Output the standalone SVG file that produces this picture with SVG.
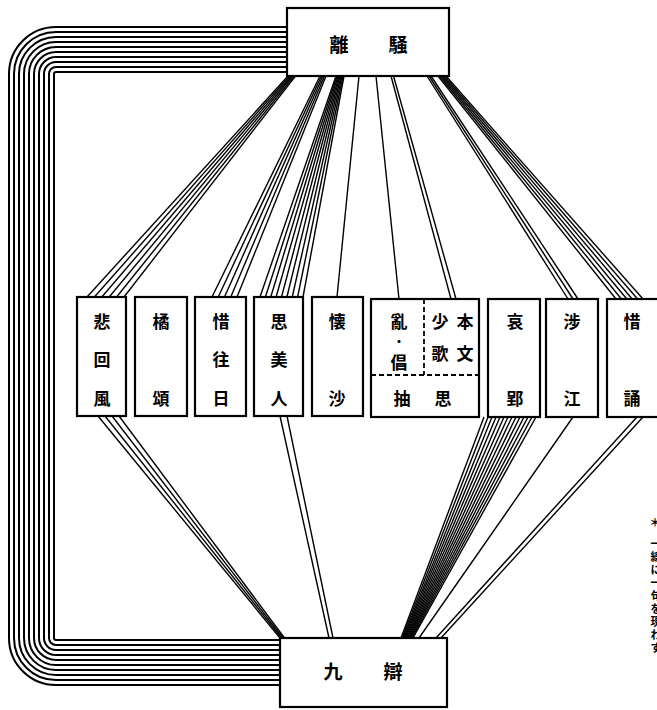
<svg xmlns="http://www.w3.org/2000/svg" width="657" height="710" viewBox="0 0 657 710">
<style>
.box{fill:#fff;stroke:#000;stroke-width:2.2}
.dash{fill:none;stroke:#000;stroke-width:1.8;stroke-dasharray:5,3}
.t{font-family:"Noto Sans CJK JP","Noto Sans CJK SC",sans-serif;font-size:17px;font-weight:bold;text-anchor:middle;dominant-baseline:central;fill:#000}
.d{font-family:"Noto Sans CJK JP","Noto Sans CJK SC",sans-serif;font-size:12px;font-weight:bold;text-anchor:middle;dominant-baseline:central;fill:#000}
.tb{font-family:"Noto Sans CJK JP","Noto Sans CJK SC",sans-serif;font-size:19px;font-weight:bold;text-anchor:middle;dominant-baseline:central;fill:#000}
.n{font-family:"Noto Sans CJK JP","Noto Sans CJK SC",sans-serif;font-size:11px;font-weight:bold;text-anchor:middle;dominant-baseline:central;fill:#000}
.c line{stroke:#000;stroke-width:1.4}
.loop path{fill:none;stroke:#000;stroke-width:2}
</style>
<rect width="657" height="710" fill="#fff"/>
<g id="connectors">
<g class="loop">
<path d="M287,72 H56 A2,2 0 0 0 54,74 V638 A2,2 0 0 0 56,640 H280"/>
<path d="M287,67 H56 A7,7 0 0 0 49,74 V638 A7,7 0 0 0 56,645 H280"/>
<path d="M287,62 H56 A12,12 0 0 0 44,74 V638 A12,12 0 0 0 56,650 H280"/>
<path d="M287,57 H56 A17,17 0 0 0 39,74 V638 A17,17 0 0 0 56,655 H280"/>
<path d="M287,52 H56 A22,22 0 0 0 34,74 V638 A22,22 0 0 0 56,660 H280"/>
<path d="M287,47 H56 A27,27 0 0 0 29,74 V638 A27,27 0 0 0 56,665 H280"/>
<path d="M287,42 H56 A32,32 0 0 0 24,74 V638 A32,32 0 0 0 56,670 H280"/>
<path d="M287,37 H56 A37,37 0 0 0 19,74 V638 A37,37 0 0 0 56,675 H280"/>
<path d="M287,32 H56 A42,42 0 0 0 14,74 V638 A42,42 0 0 0 56,680 H280"/>
<path d="M287,27 H56 A47,47 0 0 0 9,74 V638 A47,47 0 0 0 56,685 H280"/>
</g>
<g class="c">
<line x1="288" y1="76" x2="87" y2="297"/>
<line x1="289.5" y1="76" x2="94.4" y2="297"/>
<line x1="291" y1="76" x2="101.8" y2="297"/>
<line x1="292.5" y1="76" x2="109.2" y2="297"/>
<line x1="294" y1="76" x2="116.6" y2="297"/>
<line x1="295.5" y1="76" x2="124" y2="297"/>
<line x1="320" y1="76" x2="212" y2="297"/>
<line x1="321.5" y1="76" x2="218.25" y2="297"/>
<line x1="323" y1="76" x2="224.5" y2="297"/>
<line x1="324.5" y1="76" x2="230.75" y2="297"/>
<line x1="326" y1="76" x2="237" y2="297"/>
<line x1="336" y1="76" x2="260" y2="297"/>
<line x1="337" y1="76" x2="265.4" y2="297"/>
<line x1="338" y1="76" x2="270.75" y2="297"/>
<line x1="339" y1="76" x2="276.1" y2="297"/>
<line x1="340" y1="76" x2="281.5" y2="297"/>
<line x1="341" y1="76" x2="286.9" y2="297"/>
<line x1="342" y1="76" x2="292.25" y2="297"/>
<line x1="343" y1="76" x2="297.6" y2="297"/>
<line x1="344" y1="76" x2="303" y2="297"/>
<line x1="359" y1="76" x2="337" y2="297"/>
<line x1="376" y1="76" x2="399" y2="299"/>
<line x1="391" y1="76" x2="451" y2="299"/>
<line x1="393.5" y1="76" x2="456" y2="299"/>
<line x1="427" y1="76" x2="568" y2="299"/>
<line x1="429" y1="76" x2="573" y2="299"/>
<line x1="431" y1="76" x2="578" y2="299"/>
<line x1="438" y1="76" x2="616" y2="299"/>
<line x1="439.6" y1="76" x2="621.4" y2="299"/>
<line x1="441.2" y1="76" x2="626.8" y2="299"/>
<line x1="442.8" y1="76" x2="632.2" y2="299"/>
<line x1="444.4" y1="76" x2="637.6" y2="299"/>
<line x1="446" y1="76" x2="643" y2="299"/>
<line x1="98" y1="416" x2="280" y2="638"/>
<line x1="105" y1="416" x2="281.5" y2="638"/>
<line x1="112" y1="416" x2="283" y2="638"/>
<line x1="119" y1="416" x2="284.5" y2="638"/>
<line x1="280" y1="416" x2="329" y2="638"/>
<line x1="287" y1="416" x2="333" y2="638"/>
<line x1="484" y1="417" x2="401" y2="638"/>
<line x1="488" y1="417" x2="402" y2="638"/>
<line x1="492" y1="417" x2="403" y2="638"/>
<line x1="496" y1="417" x2="403.8" y2="638"/>
<line x1="500" y1="417" x2="404.7" y2="638"/>
<line x1="504" y1="417" x2="405.6" y2="638"/>
<line x1="508" y1="417" x2="406.5" y2="638"/>
<line x1="512" y1="417" x2="407.4" y2="638"/>
<line x1="516" y1="417" x2="408.3" y2="638"/>
<line x1="520" y1="417" x2="409.2" y2="638"/>
<line x1="524" y1="417" x2="410.1" y2="638"/>
<line x1="528" y1="417" x2="411" y2="638"/>
<line x1="532" y1="417" x2="412" y2="638"/>
<line x1="536" y1="417" x2="413" y2="638"/>
<line x1="573" y1="417" x2="419" y2="638"/>
<line x1="637" y1="417" x2="436" y2="638"/>
<line x1="643" y1="417" x2="441" y2="638"/>
</g>
</g>
<g id="lisao">
<rect class="box" x="287" y="8" width="162" height="68"/>
<text class="tb" x="339" y="43">離</text>
<text class="tb" x="398" y="43">騒</text>
</g>
<g id="jiubian">
<rect class="box" x="280" y="638" width="167" height="69"/>
<text class="tb" x="333" y="670">九</text>
<text class="tb" x="393" y="670">辯</text>
</g>
<g id="beihuifeng">
<rect class="box" x="77" y="297" width="49" height="119"/>
<text class="t" x="102" y="320">悲</text>
<text class="t" x="102" y="358">回</text>
<text class="t" x="102" y="397">風</text>
</g>
<g id="jusong">
<rect class="box" x="135" y="297" width="52" height="119"/>
<text class="t" x="161" y="320">橘</text>
<text class="t" x="161" y="397">頌</text>
</g>
<g id="xiwangri">
<rect class="box" x="195" y="297" width="51" height="119"/>
<text class="t" x="221" y="320">惜</text>
<text class="t" x="221" y="358">往</text>
<text class="t" x="221" y="397">日</text>
</g>
<g id="simeiren">
<rect class="box" x="254" y="297" width="49" height="119"/>
<text class="t" x="279" y="320">思</text>
<text class="t" x="279" y="358">美</text>
<text class="t" x="279" y="397">人</text>
</g>
<g id="huaisha">
<rect class="box" x="312" y="297" width="51" height="119"/>
<text class="t" x="337" y="320">懐</text>
<text class="t" x="337" y="397">沙</text>
</g>
<g id="chousi">
<rect class="box" x="371" y="299" width="108" height="118"/>
<path class="dash" d="M424,299 V375 M371,375 H479"/>
<text class="t" x="399" y="320">亂</text>
<text class="d" x="399" y="341">・</text>
<text class="t" x="399" y="361">倡</text>
<text class="t" x="440" y="320">少</text>
<text class="t" x="465" y="320">本</text>
<text class="t" x="440" y="352">歌</text>
<text class="t" x="465" y="352">文</text>
<text class="t" x="402" y="397">抽</text>
<text class="t" x="443" y="397">思</text>
</g>
<g id="aiying">
<rect class="box" x="488" y="299" width="52" height="118"/>
<text class="t" x="515" y="320">哀</text>
<text class="t" x="515" y="397">郢</text>
</g>
<g id="shejiang">
<rect class="box" x="546" y="299" width="52" height="118"/>
<text class="t" x="572" y="320">涉</text>
<text class="t" x="572" y="397">江</text>
</g>
<g id="xisong">
<rect class="box" x="607" y="299" width="70" height="118"/>
<text class="t" x="632" y="320">惜</text>
<text class="t" x="632" y="397">誦</text>
</g>
<g id="note">
<text class="n" x="655" y="522">＊</text>
<text class="n" x="656" y="543">一</text>
<text class="n" x="656" y="556">線</text>
<text class="n" x="656" y="569">に</text>
<text class="n" x="656" y="582">一</text>
<text class="n" x="656" y="595">句</text>
<text class="n" x="656" y="608">を</text>
<text class="n" x="656" y="621">現</text>
<text class="n" x="656" y="634">わ</text>
<text class="n" x="656" y="647">す</text>
</g>
</svg>
